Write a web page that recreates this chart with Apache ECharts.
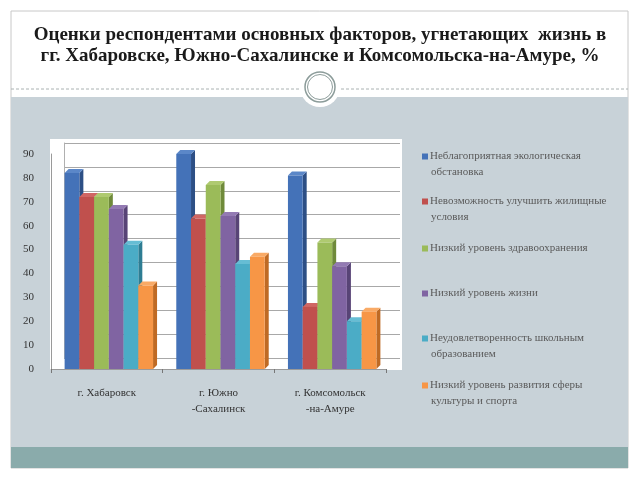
<!DOCTYPE html>
<html>
<head>
<meta charset="utf-8">
<script src="https://cdn.jsdelivr.net/npm/echarts@6/dist/echarts.min.js"></script>
<style>
  body { margin: 0; background: #fff; }
  #chart { width: 640px; height: 480px; }
</style>
</head>
<body>
<div id="chart"></div>
<script>
// города
const cities = ['г. Хабаровск', 'г. Южно\n-Сахалинск', 'г. Комсомольск\n-на-Амуре']

// факторы (легенда), строки разбиты как на слайде
const factorLines = [
    ['Неблагоприятная экологическая', 'обстановка'],
    ['Невозможность улучшить жилищные', 'условия'],
    ['Низкий уровень здравоохранения'],
    ['Низкий уровень жизни'],
    ['Неудовлетворенность школьным', 'образованием'],
    ['Низкий уровень развития сферы', 'культуры и спорта']
]

// значения, % (по городам)
const ecology = [82, 90, 81]
const housing = [72, 63, 26]
const health = [72, 77, 53]
const living = [67, 64, 43]
const school = [52, 44, 20]
const culture = [35, 47, 24]

const yTicks = [0, 10, 20, 30, 40, 50, 60, 70, 80, 90]

const values = [ecology, housing, health, living, school, culture]
const faces = [
    ['#4472b8', '#2d4f85', '#5b87c8'],
    ['#c0504d', '#8a3432', '#d06663'],
    ['#9bbb59', '#6f8a3a', '#afca70'],
    ['#8064a2', '#584476', '#937ab3'],
    ['#4bacc6', '#2e7d93', '#66bdd4'],
    ['#f79646', '#bf6a24', '#f9aa66']
]
const legendY = [158, 203, 250, 295, 340, 387]

var myChart = echarts.init(document.getElementById('chart'))

function renderBar(params, api) {
    var s = params.seriesIndex
    var top = api.coord([api.value(0), api.value(1)])
    var base = api.coord([api.value(0), 0])
    var band = api.size([1, 0])[0]
    var w = band * 0.132
    var d = 4
    var x = top[0] - 3 * w + s * w + 2
    var c = faces[s]
    return {
        type: 'group',
        children: [
            { type: 'polygon', shape: { points: [[x + w, top[1]], [x + w + d, top[1] - d], [x + w + d, base[1] - d], [x + w, base[1]]] }, style: { fill: c[1] } },
            { type: 'polygon', shape: { points: [[x, top[1]], [x + d, top[1] - d], [x + w + d, top[1] - d], [x + w, top[1]]] }, style: { fill: c[2] } },
            { type: 'rect', shape: { x: x, y: top[1], width: w, height: base[1] - top[1] }, style: { fill: c[0] } }
        ]
    }
}

var series = values.map(function (arr, i) {
    return {
        type: 'custom',
        name: factorLines[i].join(' '),
        xAxisIndex: 0,
        yAxisIndex: 0,
        itemStyle: { color: faces[i][0] },
        encode: { x: 0, y: 1 },
        data: arr.map(function (v, k) { return [k, v] }),
        renderItem: renderBar
    }
})

var legends = factorLines.map(function (lines, i) {
    return {
        data: [lines.join(' ')],
        left: 422,
        top: legendY[i] - 7,
        padding: 0,
        icon: 'rect',
        itemWidth: 6,
        itemHeight: 6,
        itemGap: 0,
        selectedMode: false,
        formatter: function () { return lines[0] },
        textStyle: { fontFamily: 'Liberation Serif', fontSize: 11, color: '#5a5a5a', padding: [0, 0, 0, -3] }
    }
})

var graphics = [
    // рамка слайда
    { type: 'rect', z: -10, shape: { x: 11, y: 11, width: 617, height: 457 }, style: { fill: '#fff', stroke: '#c8c8c8', lineWidth: 1 } },
    { type: 'rect', z: -9, shape: { x: 11, y: 97, width: 617, height: 350 }, style: { fill: '#c8d2d8' } },
    { type: 'rect', z: -9, shape: { x: 11, y: 447, width: 617, height: 21 }, style: { fill: '#8aabab' } },
    { type: 'line', z: -9, shape: { x1: 11, y1: 89, x2: 628, y2: 89 }, style: { stroke: '#aab2b2', lineDash: [3, 2], lineWidth: 1 } },
    { type: 'circle', z: -8, shape: { cx: 320, cy: 87, r: 20 }, style: { fill: '#fff' } },
    { type: 'circle', z: -7, shape: { cx: 320, cy: 87, r: 15 }, style: { fill: '#fff', stroke: '#8c9c9a', lineWidth: 1.5 } },
    { type: 'circle', z: -7, shape: { cx: 320, cy: 87, r: 12.5 }, style: { fill: 'none', stroke: '#8c9c9a', lineWidth: 1 } },
    // белая область диаграммы
    { type: 'rect', z: -8, shape: { x: 50, y: 139, width: 352, height: 231 }, style: { fill: '#fff' } }
]
factorLines.forEach(function (lines, i) {
    if (lines[1]) {
        graphics.push({
            type: 'text', z: 5, x: 431, y: legendY[i] + 9,
            style: { text: lines[1], fontFamily: 'Liberation Serif', fontSize: 11, fill: '#5a5a5a' }
        })
    }
})

var option = {
    animation: false,
    title: {
        text: 'Оценки респондентами основных факторов, угнетающих  жизнь в\nгг. Хабаровске, Южно-Сахалинске и Комсомольска-на-Амуре, %',
        left: 'center',
        top: 25,
        padding: 0,
        textStyle: {
            fontFamily: 'Liberation Serif',
            fontWeight: 'bold',
            fontSize: 19,
            lineHeight: 21,
            color: '#1a1a1a'
        }
    },
    legend: legends,
    graphic: graphics,
    grid: [
        { left: 51, right: 254, top: 154, bottom: 111 },
        // задняя стенка
        { left: 64, right: 240, top: 143, bottom: 122 }
    ],
    xAxis: [
        {
            type: 'category',
            gridIndex: 0,
            data: cities,
            axisLine: { lineStyle: { color: '#9a9a9a' } },
            axisTick: { show: true, length: 4, lineStyle: { color: '#777' } },
            axisLabel: { fontFamily: 'Liberation Serif', fontSize: 11, color: '#333', lineHeight: 16, margin: 16 }
        },
        { type: 'category', gridIndex: 1, data: cities, show: false }
    ],
    yAxis: [
        {
            type: 'value',
            gridIndex: 0,
            min: 0,
            max: 90,
            interval: 10,
            axisLine: { show: true, lineStyle: { color: '#9a9a9a' } },
            axisTick: { show: false },
            splitLine: { show: false },
            axisLabel: {
                fontFamily: 'Liberation Serif', fontSize: 11, color: '#333', margin: 17,
                formatter: function (v) { return yTicks.indexOf(v) >= 0 ? String(v) : '' }
            }
        },
        {
            type: 'value',
            gridIndex: 1,
            min: 0,
            max: 90,
            interval: 10,
            axisLine: { show: true, lineStyle: { color: '#b0b0b0' } },
            axisTick: { show: false },
            axisLabel: { show: false },
            splitLine: { show: true, lineStyle: { color: '#a8a8a8', width: 1 } }
        }
    ],
    series: series
}

myChart.setOption(option)
</script>
</body>
</html>
